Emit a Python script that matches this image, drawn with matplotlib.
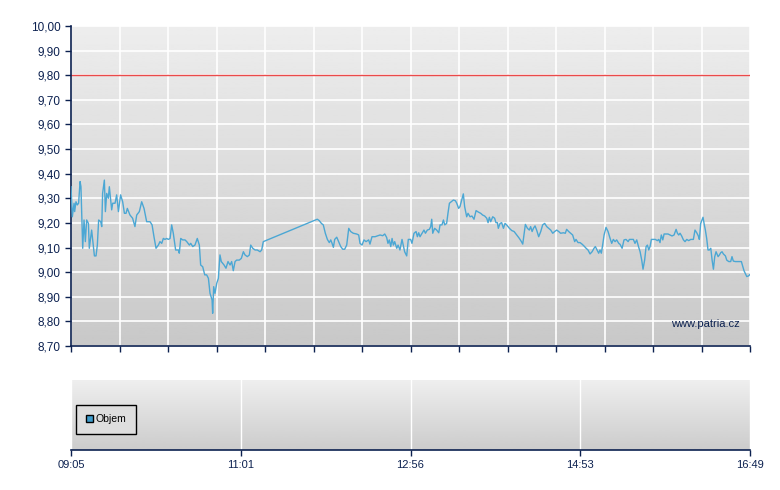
import matplotlib.pyplot as plt
import numpy as np

plt.rcParams.update({'font.family': ['Liberation Sans', 'DejaVu Sans']})

# minutes after 09:05 and last price
minutes = [0, 0.9, 2.1, 2.5, 3.4, 4.3, 5.2, 6.2, 6.8, 8.0, 8.9, 9.8, 10.7, 11.9, 12.5, 14.1,
           15.3, 16.0, 17.1, 18.0, 18.9, 20.3, 21.0, 21.6, 22.8, 23.5, 24.4, 25.5, 26.2, 27.8,
           28.5, 30.1, 31.2, 32.4, 33.9, 35.3, 36.5, 37.6, 38.5, 40.3, 42.1, 43.7, 44.9, 46.7,
           48.3, 49.9, 51.7, 54.0, 55.4, 56.7, 58.1, 59.7, 60.8, 62.0, 63.1, 64.2, 65.4, 66.5,
           67.7, 68.8, 69.9, 71.5, 73.4, 74.0, 75.0, 76.3, 77.9, 79.1, 80.9, 81.8, 83.2, 84.7,
           86.3, 87.7, 88.6, 90.0, 91.4, 92.7, 93.9, 95.0, 96.4, 96.8, 97.5, 98.4, 99.6, 100.7,
           101.8, 102.7, 104.6, 105.9, 107.3, 108.7, 109.8, 110.9, 112.1, 113.2, 115.0, 116.4,
           117.8, 118.9, 120.5, 121.9, 122.8, 124.2, 125.8, 127.3, 129.2, 130.3, 131.4,
           168.3, 169.7, 171.1, 172.4, 173.8, 175.2, 176.5, 177.5, 178.4, 179.3, 180.2, 181.6,
           182.9, 184.3, 185.7, 187.0, 188.4, 189.8, 191.1, 192.9, 195.2, 196.6, 197.5, 198.9,
           200.2, 201.6, 203.4, 204.3, 205.7, 207.8, 209.3, 211.2, 213.0, 214.4, 215.7, 216.6,
           217.5, 218.5, 219.4, 220.3, 221.2, 222.6, 223.5, 224.8, 226.2, 228.0, 229.4, 230.5,
           232.1, 233.0, 234.4, 235.8, 236.7, 237.6, 238.5, 239.9, 241.2, 242.2, 243.5, 244.9,
           245.8, 246.5, 247.2, 248.5, 249.9, 251.3, 252.2, 253.5, 254.5, 255.4, 256.7, 257.6,
           258.6, 259.9, 261.3, 262.7, 263.6, 264.9, 265.8, 267.0, 268.1, 269.0, 270.4, 271.3,
           272.7, 274.0, 275.4, 276.8, 278.4, 280.0, 281.3, 282.7, 284.1, 285.0, 285.9, 286.8,
           288.2, 289.5, 290.4, 291.4, 292.0, 293.2, 294.3, 295.5, 296.6, 297.7, 299.6, 301.2,
           302.8, 304.6, 306.4, 307.8, 308.7, 310.5, 311.9, 313.2, 314.1, 315.1, 316.0, 317.1,
           318.2, 319.6, 321.0, 322.3, 323.7, 325.1, 326.4, 327.8, 329.2, 330.5, 331.9, 333.3,
           334.6, 336.5, 337.8, 338.7, 340.1, 341.5, 342.8, 344.2, 345.1, 346.5, 347.9, 349.2,
           350.6, 352.0, 353.3, 354.7, 356.1, 357.4, 358.3, 359.7, 360.6, 361.5, 362.4, 363.3,
           364.3, 365.6, 367.0, 368.4, 369.5, 370.6, 371.8, 372.9, 374.3, 375.2, 376.6, 377.9,
           379.3, 380.7, 381.6, 383.2, 384.3, 385.4, 386.6, 387.7, 388.9, 390.0, 390.9, 392.0,
           393.0, 393.9, 394.8, 395.7, 396.6, 398.0, 399.3, 400.7, 401.6, 402.5, 403.4, 404.4,
           405.3, 406.6, 408.0, 409.4, 410.7, 412.1, 413.5, 414.4, 415.3, 416.2, 417.3, 418.5,
           419.6, 420.8, 422.1, 423.5, 425.3, 426.4, 427.6, 428.7, 429.4, 430.3, 431.2, 431.9,
           432.6, 433.5, 434.4, 435.3, 436.2, 437.2, 438.1, 439.0, 439.9, 440.8, 442.2, 443.1,
           444.0, 444.9, 445.8, 447.2, 448.1, 449.5, 450.8, 451.7, 452.6, 454.0, 455.4, 456.7,
           458.1, 459.0, 459.9, 460.8, 461.8, 463.1, 464.0]
prices = [9.347, 9.225, 9.280, 9.246, 9.286, 9.273, 9.280, 9.368, 9.347, 9.097, 9.212, 9.124,
          9.212, 9.198, 9.097, 9.171, 9.104, 9.066, 9.066, 9.110, 9.212, 9.205, 9.185, 9.320,
          9.374, 9.246, 9.320, 9.300, 9.347, 9.253, 9.280, 9.280, 9.314, 9.246, 9.314, 9.286,
          9.239, 9.239, 9.259, 9.232, 9.219, 9.185, 9.232, 9.246, 9.286, 9.259, 9.205, 9.205,
          9.192, 9.144, 9.097, 9.110, 9.124, 9.117, 9.137, 9.133, 9.137, 9.133, 9.137, 9.192,
          9.158, 9.090, 9.090, 9.077, 9.137, 9.131, 9.131, 9.124, 9.110, 9.117, 9.104, 9.110,
          9.137, 9.110, 9.029, 9.022, 8.989, 8.989, 8.975, 8.914, 8.887, 8.833, 8.941, 8.914,
          8.955, 8.975, 9.070, 9.043, 9.029, 9.016, 9.043, 9.029, 9.043, 9.006, 9.043, 9.049,
          9.049, 9.056, 9.083, 9.070, 9.063, 9.070, 9.110, 9.097, 9.090, 9.090, 9.083, 9.090,
          9.124,
          9.215, 9.209, 9.198, 9.192, 9.158, 9.133, 9.120, 9.131, 9.117, 9.101, 9.133, 9.142,
          9.124, 9.104, 9.093, 9.093, 9.110, 9.178, 9.165, 9.158, 9.155, 9.151, 9.117, 9.110,
          9.131, 9.124, 9.131, 9.114, 9.144, 9.144, 9.147, 9.151, 9.148, 9.155, 9.141, 9.117,
          9.131, 9.104, 9.137, 9.110, 9.124, 9.097, 9.110, 9.090, 9.133, 9.083, 9.066, 9.133,
          9.133, 9.117, 9.158, 9.165, 9.144, 9.160, 9.144, 9.158, 9.171, 9.158, 9.171, 9.174,
          9.185, 9.215, 9.158, 9.178, 9.171, 9.160, 9.192, 9.192, 9.212, 9.192, 9.198, 9.239,
          9.280, 9.286, 9.293, 9.290, 9.280, 9.259, 9.266, 9.293, 9.318, 9.266, 9.225, 9.239,
          9.225, 9.228, 9.215, 9.250, 9.244, 9.239, 9.232, 9.228, 9.219, 9.201, 9.223, 9.205,
          9.225, 9.219, 9.201, 9.201, 9.178, 9.198, 9.201, 9.178, 9.198, 9.192, 9.178, 9.169,
          9.165, 9.151, 9.137, 9.124, 9.114, 9.194, 9.178, 9.171, 9.185, 9.165, 9.178, 9.188,
          9.171, 9.144, 9.165, 9.192, 9.198, 9.185, 9.178, 9.171, 9.158, 9.165, 9.171, 9.165,
          9.158, 9.160, 9.158, 9.174, 9.165, 9.158, 9.151, 9.124, 9.133, 9.120, 9.120, 9.114,
          9.106, 9.097, 9.090, 9.074, 9.083, 9.097, 9.104, 9.087, 9.077, 9.090, 9.077, 9.110,
          9.151, 9.182, 9.165, 9.137, 9.117, 9.133, 9.124, 9.131, 9.117, 9.113, 9.097, 9.131,
          9.133, 9.124, 9.133, 9.133, 9.133, 9.117, 9.131, 9.106, 9.083, 9.049, 9.012, 9.049,
          9.104, 9.110, 9.090, 9.104, 9.133, 9.133, 9.133, 9.128, 9.133, 9.120, 9.151, 9.131,
          9.155, 9.155, 9.155, 9.151, 9.147, 9.151, 9.174, 9.158, 9.151, 9.158, 9.147, 9.131,
          9.124, 9.133, 9.128, 9.133, 9.133, 9.171, 9.160, 9.147, 9.133, 9.198, 9.212, 9.223,
          9.198, 9.171, 9.137, 9.090, 9.090, 9.097, 9.049, 9.012, 9.063, 9.083, 9.063, 9.070,
          9.079, 9.083, 9.074, 9.066, 9.049, 9.043, 9.043, 9.063, 9.045, 9.043, 9.043, 9.043,
          9.043, 9.025, 9.006, 8.995, 8.982, 8.985, 8.991]
limit_price = 9.80
time_labels = ['09:05', '11:01', '12:56', '14:53', '16:49']
y_ticks = [8.7, 8.8, 8.9, 9.0, 9.1, 9.2, 9.3, 9.4, 9.5, 9.6, 9.7, 9.8, 9.9, 10.0]

navy = '#0c2150'
t_end = 464

fig = plt.figure(figsize=(7.8, 4.9), dpi=100)
ax = fig.add_axes([71 / 780, 1 - 346 / 490, 679 / 780, 320 / 490])
ax2 = fig.add_axes([71 / 780, 1 - 450 / 490, 679 / 780, 70 / 490])

# light-to-dark vertical background gradient, top row light
grad = np.linspace(0, 1, 256).reshape(-1, 1)
for a, lo, hi in [(ax, 0.93, 0.785), (ax2, 0.935, 0.80)]:
    a.imshow(lo + (hi - lo) * grad, cmap='gray', vmin=0, vmax=1, aspect='auto',
             origin='upper', extent=[0, 1, 0, 1], transform=a.transAxes, zorder=0)

# main price panel
ax.plot(minutes, prices, color='#4ba7d4', lw=1.0, zorder=3)
ax.axhline(limit_price, color='#ea4a4a', lw=1.0, zorder=2)
ax.set_xlim(0, t_end)
ax.set_ylim(8.7, 10.0)
ax.set_yticks(y_ticks)
ax.set_yticklabels([f'{v:.2f}'.replace('.', ',') for v in y_ticks])
ax.set_xticks(np.linspace(0, t_end, 15))
ax.set_xticklabels([])
ax.grid(True, color='white', lw=1.2, zorder=1)
ax.set_axisbelow(True)
for s in ['top', 'right']:
    ax.spines[s].set_visible(False)
for s in ['left', 'bottom']:
    ax.spines[s].set_color(navy)
    ax.spines[s].set_linewidth(1.2)
ax.tick_params(colors=navy, labelsize=8.5, length=4, width=1)
ax.text(0.985, 0.07, 'www.patria.cz', transform=ax.transAxes, ha='right', va='center',
        color=navy, fontsize=8)

# volume panel
ax2.set_xlim(0, t_end)
ax2.set_ylim(0, 1)
ax2.set_xticks(np.linspace(0, t_end, 5))
ax2.set_xticklabels(time_labels)
ax2.set_yticks([])
ax2.grid(True, axis='x', color='white', lw=1.0)
ax2.set_axisbelow(True)
for s in ['top', 'right', 'left']:
    ax2.spines[s].set_visible(False)
ax2.spines['bottom'].set_color(navy)
ax2.spines['bottom'].set_linewidth(1.2)
ax2.tick_params(axis='x', colors=navy, labelsize=8, length=4, width=1, pad=3)
ax2.bar([0], [0], color='#3d9ccc', edgecolor='black', label='Objem')
leg = ax2.legend(loc='center left', bbox_to_anchor=(0.0, 0.44), fontsize=7.5,
                 frameon=True, fancybox=False, edgecolor='black', facecolor='#dedede',
                 framealpha=1, handlelength=0.7, handleheight=0.7, handletextpad=0.3,
                 borderpad=0.9)
leg.get_frame().set_linewidth(1.0)

plt.savefig('out.png', dpi=100)
